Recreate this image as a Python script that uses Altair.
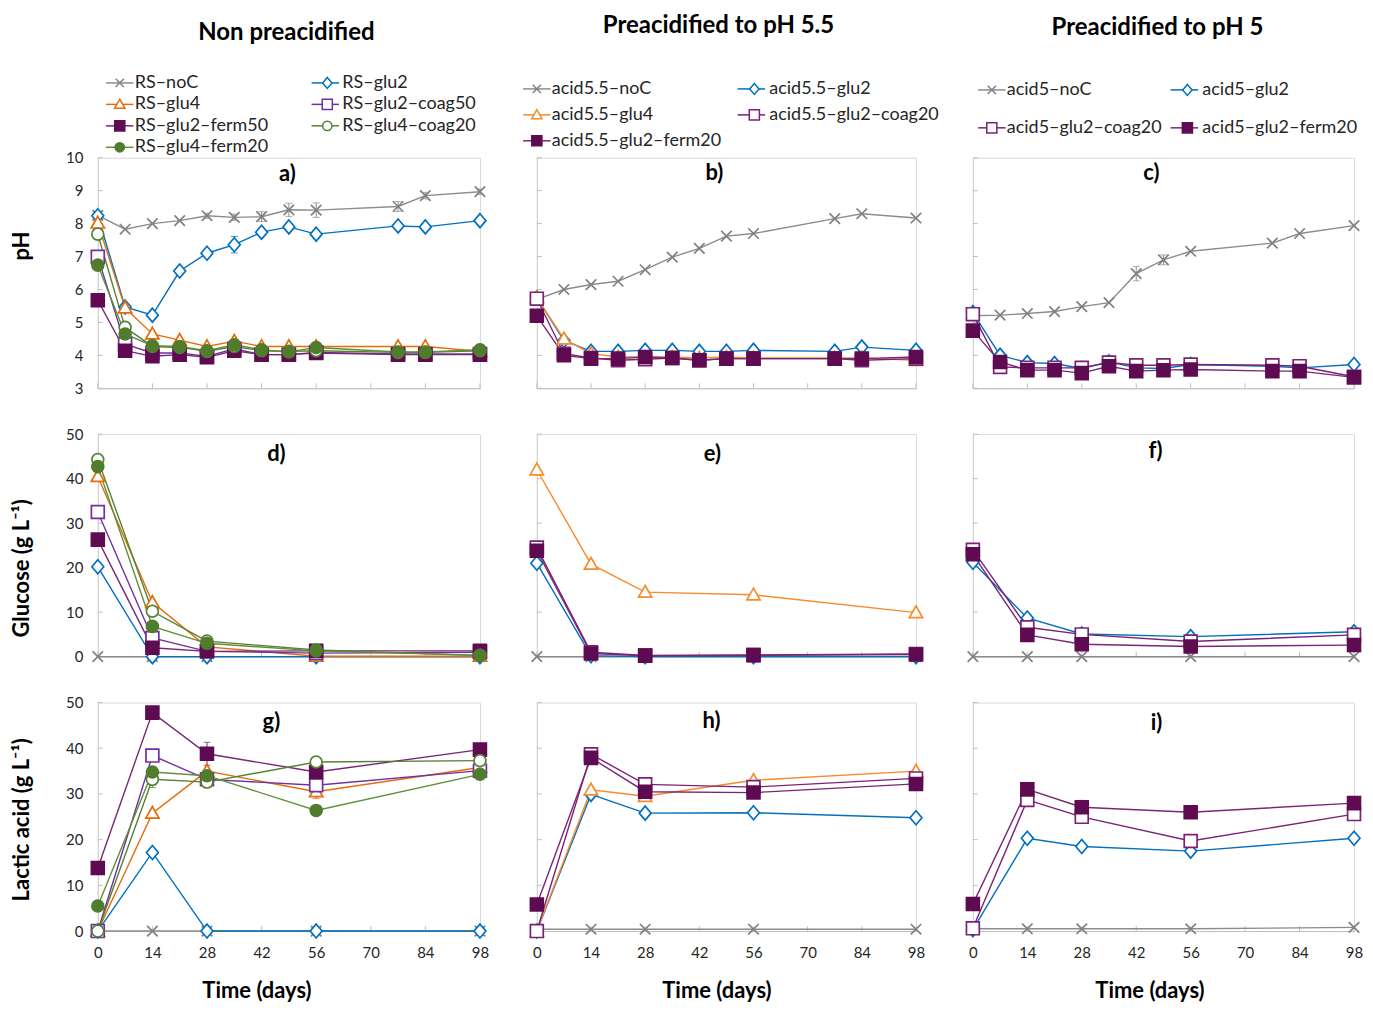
import altair as alt
import pandas as pd

FONT = "Lato"

# ---------------- data ----------------
DAYS_PH = [0, 7, 14, 21, 28, 35, 42, 49, 56, 77, 84, 98]
DAYS_CONC = [0, 14, 28, 56, 98]
X_TICKS = [0, 14, 28, 42, 56, 70, 84, 98]
PH_TICKS = [3, 4, 5, 6, 7, 8, 9, 10]
CONC_TICKS = [0, 10, 20, 30, 40, 50]

COLUMN_TITLES = ["Non preacidified", "Preacidified to pH 5.5", "Preacidified to pH 5"]
ROW_TITLES = ["pH", "Glucose (g L⁻¹)", "Lactic acid (g L⁻¹)"]
PANEL_LABELS = [["a)", "d)", "g)"], ["b)", "e)", "h)"], ["c)", "f)", "i)"]]

SERIES_RS = ["RS–noC", "RS–glu2", "RS–glu4", "RS–glu2–coag50",
             "RS–glu2–ferm50", "RS–glu4–coag20", "RS–glu4–ferm20"]
SERIES_A55 = ["acid5.5–noC", "acid5.5–glu2", "acid5.5–glu4",
              "acid5.5–glu2–coag20", "acid5.5–glu2–ferm20"]
SERIES_A5 = ["acid5–noC", "acid5–glu2", "acid5–glu2–coag20", "acid5–glu2–ferm20"]

# pH, non preacidified (a)
PH_RS = {
    "RS–noC":         [8.25, 7.83, 8.0, 8.09, 8.24, 8.19, 8.21, 8.42, 8.41, 8.52, 8.85, 8.97],
    "RS–glu2":        [8.24, 5.47, 5.22, 6.56, 7.1, 7.36, 7.74, 7.9, 7.68, 7.93, 7.9, 8.09],
    "RS–glu4":        [8.02, 5.44, 4.65, 4.46, 4.27, 4.43, 4.27, 4.27, 4.27, 4.27, 4.27, 4.12],
    "RS–glu2–coag50": [6.99, 4.34, 4.07, 4.07, 3.97, 4.2, 4.02, 4.02, 4.09, 4.04, 4.04, 4.04],
    "RS–glu2–ferm50": [5.67, 4.14, 3.97, 4.02, 3.94, 4.14, 4.02, 4.02, 4.07, 4.02, 4.02, 4.02],
    "RS–glu4–coag20": [7.68, 4.85, 4.27, 4.24, 4.12, 4.27, 4.14, 4.12, 4.14, 4.09, 4.09, 4.14],
    "RS–glu4–ferm20": [6.74, 4.65, 4.29, 4.27, 4.14, 4.32, 4.17, 4.1, 4.24, 4.1, 4.1, 4.17],
}
# pH, preacidified to 5.5 (b)
PH_A55 = {
    "acid5.5–noC":         [5.7, 6.0, 6.15, 6.25, 6.6, 6.98, 7.25, 7.62, 7.7, 8.15, 8.3, 8.17],
    "acid5.5–glu2":        [5.75, 4.45, 4.12, 4.12, 4.15, 4.15, 4.12, 4.12, 4.15, 4.12, 4.25, 4.15],
    "acid5.5–glu4":        [5.75, 4.5, 4.05, 3.95, 3.95, 3.95, 3.92, 3.95, 3.92, 3.92, 3.92, 3.85],
    "acid5.5–glu2–coag20": [5.72, 4.05, 3.92, 3.85, 3.88, 3.92, 3.85, 3.9, 3.9, 3.9, 3.85, 3.9],
    "acid5.5–glu2–ferm20": [5.2, 4.0, 3.9, 3.9, 3.95, 3.92, 3.85, 3.9, 3.9, 3.9, 3.9, 3.95],
}
# pH, preacidified to 5 (c)
PH_A5 = {
    "acid5–noC":         [5.2, 5.22, 5.27, 5.33, 5.48, 5.6, 6.48, 6.9, 7.16, 7.41, 7.7, 7.94],
    "acid5–glu2":        [5.3, 4.0, 3.78, 3.75, 3.6, 3.8, 3.62, 3.6, 3.72, 3.67, 3.62, 3.72],
    "acid5–glu2–coag20": [5.25, 3.65, 3.62, 3.62, 3.62, 3.78, 3.7, 3.7, 3.72, 3.7, 3.67, 3.35],
    "acid5–glu2–ferm20": [4.75, 3.8, 3.55, 3.55, 3.46, 3.67, 3.52, 3.55, 3.57, 3.52, 3.52, 3.33],
}
# glucose (g/L)
GLU_RS = {
    "RS–noC":         [0, 0, 0, 0, 0],
    "RS–glu2":        [20.2, 0, 0, 0, 0],
    "RS–glu4":        [40.5, 12.2, 2.2, 0.1, 0.1],
    "RS–glu2–coag50": [32.5, 4.2, 1.2, 0.8, 1.0],
    "RS–glu2–ferm50": [26.3, 2.0, 1.2, 1.3, 1.3],
    "RS–glu4–coag20": [44.3, 10.2, 3.5, 1.5, 0.3],
    "RS–glu4–ferm20": [42.7, 6.8, 3.0, 1.3, 0.3],
}
GLU_A55 = {
    "acid5.5–noC":         [0, 0, 0, 0, 0],
    "acid5.5–glu2":        [21.0, 0.2, 0, 0, 0],
    "acid5.5–glu4":        [42.0, 20.8, 14.5, 13.9, 9.9],
    "acid5.5–glu2–coag20": [24.5, 1.0, 0.3, 0.4, 0.6],
    "acid5.5–glu2–ferm20": [23.8, 0.7, 0.2, 0.3, 0.5],
}
GLU_A5 = {
    "acid5–noC":         [0, 0, 0, 0, 0],
    "acid5–glu2":        [21.2, 8.7, 5.1, 4.5, 5.6],
    "acid5–glu2–coag20": [24.0, 6.6, 5.0, 3.4, 4.9],
    "acid5–glu2–ferm20": [23.0, 4.9, 2.8, 2.3, 2.6],
}
# lactic acid (g/L)
LAC_RS = {
    "RS–noC":         [0, 0, 0, 0, 0],
    "RS–glu2":        [0, 17.2, 0, 0, 0],
    "RS–glu4":        [0, 25.8, 35.0, 30.5, 35.8],
    "RS–glu2–coag50": [0, 38.4, 33.2, 31.9, 35.1],
    "RS–glu2–ferm50": [13.8, 47.8, 38.8, 34.8, 39.7],
    "RS–glu4–coag20": [0, 33.2, 32.6, 37.0, 37.3],
    "RS–glu4–ferm20": [5.5, 34.8, 34.0, 26.4, 34.3],
}
LAC_A55 = {
    "acid5.5–noC":         [0.4, 0.4, 0.4, 0.4, 0.4],
    "acid5.5–glu2":        [0, 29.9, 25.8, 25.9, 24.8],
    "acid5.5–glu4":        [0, 30.9, 29.5, 33.0, 35.0],
    "acid5.5–glu2–coag20": [0, 38.7, 32.1, 31.5, 33.4],
    "acid5.5–glu2–ferm20": [5.8, 37.9, 30.5, 30.3, 32.2],
}
LAC_A5 = {
    "acid5–noC":         [0.5, 0.5, 0.5, 0.5, 0.8],
    "acid5–glu2":        [0.3, 20.3, 18.5, 17.5, 20.3],
    "acid5–glu2–coag20": [0.6, 28.7, 25.0, 19.7, 25.6],
    "acid5–glu2–ferm20": [5.9, 31.0, 27.1, 26.0, 28.0],
}

# standard deviations visible as error bars: {series: {day: sd}}
ERR_PH_RS = {"RS–noC": {28: 0.08, 35: 0.1, 42: 0.15, 49: 0.2, 56: 0.22, 77: 0.15, 84: 0.1, 98: 0.08},
             "RS–glu2": {35: 0.25, 42: 0.1}}
ERR_PH_A5 = {"acid5–noC": {42: 0.22, 49: 0.15}}
ERR_LAC_RS = {"RS–glu2–ferm50": {28: 2.5}, "RS–glu4": {56: 1.5},
              "RS–glu4–coag20": {14: 1.8, 28: 1.2}}
ERR_LAC_A5 = {"acid5–glu2–ferm20": {28: 1.5}}

PANEL_DATA = [
    [(PH_RS, DAYS_PH, ERR_PH_RS), (GLU_RS, DAYS_CONC, {}), (LAC_RS, DAYS_CONC, ERR_LAC_RS)],
    [(PH_A55, DAYS_PH, {}), (GLU_A55, DAYS_CONC, {}), (LAC_A55, DAYS_CONC, {})],
    [(PH_A5, DAYS_PH, ERR_PH_A5), (GLU_A5, DAYS_CONC, {}), (LAC_A5, DAYS_CONC, ERR_LAC_A5)],
]
SERIES = [SERIES_RS, SERIES_A55, SERIES_A5]

# ---------------- styles ----------------
GRAY = "#808080"
BLUE = "#0070c0"
SHAPES = {
    "x": "M-0.75,-0.75L0.75,0.75M-0.75,0.75L0.75,-0.75",
    "diamond": "M0,-1L0.85,0L0,1L-0.85,0Z",
    "triangle": "M0,-0.95L0.95,0.72L-0.95,0.72Z",
    "square": "M-0.92,-0.92H0.92V0.92H-0.92Z",
    "circle": "M-0.85,0A0.85,0.85,0,1,1,0.85,0A0.85,0.85,0,1,1,-0.85,0Z",
}
LEGEND_LINE = "M-2.5,0H2.5"
ZW = "\u200b"  # keeps the line-key legend separate from the marker legend
# (shape, marker stroke, marker fill, line colour)
STYLE_RS = [
    ("x", GRAY, GRAY, "#8c8c8c"),
    ("diamond", BLUE, "white", BLUE),
    ("triangle", "#e46c0a", "white", "#e46c0a"),
    ("square", "#7030a0", "white", "#7030a0"),
    ("square", "#5e0b52", "#5e0b52", "#7a2676"),
    ("circle", "#548235", "white", "#548235"),
    ("circle", "#4f7d2c", "#4f7d2c", "#5f8f3a"),
]
STYLE_A55 = [
    ("x", GRAY, GRAY, "#8c8c8c"),
    ("diamond", BLUE, "white", BLUE),
    ("triangle", "#f98b2a", "white", "#f98b2a"),
    ("square", "#7b2277", "white", "#7b2277"),
    ("square", "#5e0b52", "#5e0b52", "#7a2676"),
]
STYLE_A5 = [
    ("x", GRAY, GRAY, "#8c8c8c"),
    ("diamond", BLUE, "white", BLUE),
    ("square", "#7b2277", "white", "#7b2277"),
    ("square", "#5e0b52", "#5e0b52", "#7a2676"),
]
STYLES = [STYLE_RS, STYLE_A55, STYLE_A5]

COL_W = [383, 380, 382]
ROW_H = [231, 223, 229]
LABEL_POS = [[(190, 16), (179, 20), (174, 19)],
             [(178, 15), (176, 20), (175, 18)],
             [(179, 15), (183, 17), (184, 20)]]
TITLE_POS = [(189, -125), (182, -132), (185, -130)]
# cp: gap between the two legend columns; lcp: same gap for the line keys (no labels)
LEGEND_POS = [dict(x=13, y=-84, cp=50, lcp=172, rp=3.5),
              dict(x=-9, y=-78, cp=24, lcp=181, rp=8),
              dict(x=10, y=-77, cp=16, lcp=159, rp=20)]
YTITLE_Y = [88, 134, 117]
XTITLE_X = [159, 180, 177]


def make_legends(ci):
    p = LEGEND_POS[ci]
    common = dict(orient="none", direction="horizontal", legendX=p["x"], legendY=p["y"],
                  columns=2, rowPadding=p["rp"], title=None,
                  labelFont=FONT, labelFontSize=18, labelColor="#262626", labelOffset=6,
                  labelLimit=400, symbolSize=121, symbolStrokeWidth=1.5, symbolOpacity=1)
    marker_leg = alt.Legend(zindex=2, columnPadding=p["cp"], **common)
    line_leg = alt.Legend(zindex=1, columnPadding=p["lcp"], symbolType=LEGEND_LINE,
                          labelExpr="''", **common)
    return marker_leg, line_leg


def make_panel(ci, ri):
    data, days, errs = PANEL_DATA[ci][ri]
    names = SERIES[ci]
    lnames = [n + ZW for n in names]
    style = STYLES[ci]
    W, H = COL_W[ci], ROW_H[ri]
    rows = []
    for k, n in enumerate(names):
        for d, v in zip(days, data[n]):
            rows.append({"series": n, "name": n + ZW, "day": d, "value": v, "k": k})
    df = pd.DataFrame(rows)

    ydom = [3, 10] if ri == 0 else [0, 50]
    yticks = PH_TICKS if ri == 0 else CONC_TICKS

    xaxis = alt.Axis(values=X_TICKS, ticks=False, labels=(ri == 2), labelPadding=14,
                     labelFlush=False,
                     title="Time (days)" if ri == 2 else None,
                     titleX=XTITLE_X[ci], titleY=60, titleBaseline="middle",
                     domainColor="#bfbfbf")
    yaxis = alt.Axis(values=yticks, ticks=False, labels=(ci == 0), labelPadding=15,
                     labelFlush=False,
                     title=ROW_TITLES[ri] if ci == 0 else None,
                     titleX=-76, titleY=YTITLE_Y[ri], titleBaseline="middle",
                     domainColor="#d0d0d0")
    xs = alt.Scale(domain=[0, 98], nice=False, zero=False)
    ys = alt.Scale(domain=ydom, nice=False, zero=False)
    X = alt.X("day:Q", scale=xs, axis=xaxis)

    def Yf(field):
        return alt.Y(field, scale=ys, axis=yaxis)

    line_scale = alt.Scale(domain=lnames, range=[s[3] for s in style])
    stroke_scale = alt.Scale(domain=names, range=[s[1] for s in style])
    fill_scale = alt.Scale(domain=names, range=[s[2] for s in style])
    shape_scale = alt.Scale(domain=names, range=[SHAPES[s[0]] for s in style])

    if ri == 0:
        marker_leg, line_leg = make_legends(ci)
    else:
        marker_leg, line_leg = None, None

    layers = []
    # inside tick marks
    layers.append(alt.Chart(pd.DataFrame({"day": X_TICKS})).mark_rule(color="#bfbfbf", strokeWidth=1)
                  .encode(x=X, y=alt.value(H), y2=alt.value(H - 5)))
    layers.append(alt.Chart(pd.DataFrame({"value": yticks})).mark_rule(color="#bfbfbf", strokeWidth=1)
                  .encode(y=Yf("value:Q"), x=alt.value(0), x2=alt.value(5)))
    # error bars
    erows = []
    for n, dd in errs.items():
        for d, e in dd.items():
            v = data[n][days.index(d)]
            erows.append({"name": n + ZW, "day": d, "lo": v - e, "hi": v + e})
    lcol = alt.Color("name:N", scale=line_scale, legend=line_leg)
    if erows:
        edf = pd.DataFrame(erows)
        layers.append(alt.Chart(edf).mark_rule(strokeWidth=1)
                      .encode(x=X, y=Yf("lo:Q"), y2="hi:Q", color=lcol))
        for f in ["lo", "hi"]:
            layers.append(alt.Chart(edf).mark_tick(orient="horizontal", size=7, thickness=1)
                          .encode(x=X, y=Yf(f + ":Q"), color=lcol))
    # lines
    layers.append(alt.Chart(df).mark_line(strokeWidth=1.4)
                  .encode(x=X, y=Yf("value:Q"), color=lcol, order=alt.Order("day:Q")))
    # markers
    layers.append(alt.Chart(df).mark_point(size=196, strokeWidth=1.7, opacity=1, fillOpacity=1)
                  .encode(x=X, y=Yf("value:Q"),
                          stroke=alt.Stroke("series:N", scale=stroke_scale, legend=marker_leg),
                          fill=alt.Fill("series:N", scale=fill_scale, legend=marker_leg),
                          shape=alt.Shape("series:N", scale=shape_scale, legend=marker_leg),
                          order=alt.Order("k:Q")))
    # panel label
    lx, ly = LABEL_POS[ci][ri]
    layers.append(alt.Chart(pd.DataFrame({"t": [PANEL_LABELS[ci][ri]]}))
                  .mark_text(font=FONT, fontSize=22, fontWeight="bold", color="black",
                             align="center", baseline="middle")
                  .encode(text="t:N", x=alt.value(lx), y=alt.value(ly)))
    if ri == 0:
        tx, ty = TITLE_POS[ci]
        layers.append(alt.Chart(pd.DataFrame({"t": [COLUMN_TITLES[ci]]}))
                      .mark_text(font=FONT, fontSize=24, fontWeight="bold", color="black",
                                 align="center", baseline="middle")
                      .encode(text="t:N", x=alt.value(tx), y=alt.value(ty)))
    return alt.layer(*layers).properties(width=W, height=H)


panels = [make_panel(ci, ri) for ri in range(3) for ci in range(3)]
chart = (
    alt.concat(*panels, columns=3, spacing={"row": 46, "column": 57}, bounds="flush")
    .resolve_scale(x="independent", y="independent", color="independent",
                   stroke="independent", fill="independent", shape="independent")
    .properties(padding={"left": 2, "top": 4, "right": 0, "bottom": 0})
    .configure(font=FONT)
    .configure_view(stroke="#d9d9d9", strokeWidth=1)
    .configure_axis(grid=False, labelFont=FONT, labelFontSize=15, labelColor="#262626",
                    titleFont=FONT, titleFontSize=22, titleFontWeight="bold", titleColor="black")
)

chart.save("out.html", embed_options={"renderer": "svg", "actions": False})
